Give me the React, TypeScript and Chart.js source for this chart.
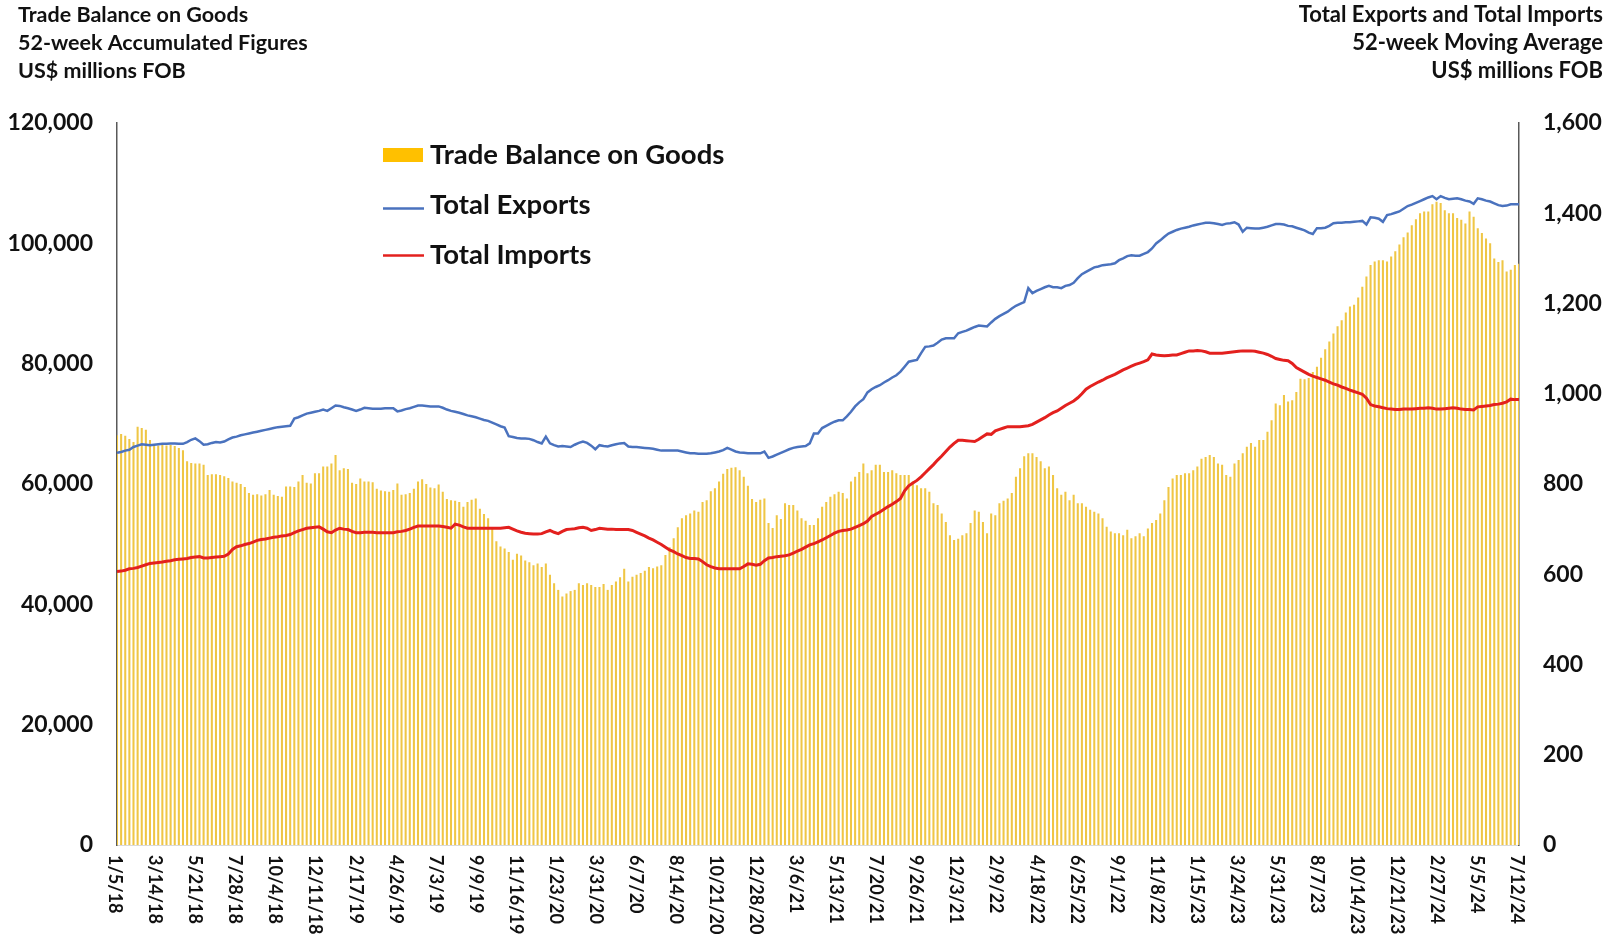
import React, { useEffect, useRef } from 'react';
import { Chart, registerables } from 'chart.js';

Chart.register(...registerables);

// Weekly observations, first week = 1/5/18, one value per week through 7/12/24
const weekStepDays = 7;
const tickStepDays = 68;
const xTickLabels = [
  '1/5/18', '3/14/18', '5/21/18', '7/28/18', '10/4/18', '12/11/18', '2/17/19', '4/26/19', '7/3/19',
  '9/9/19', '11/16/19', '1/23/20', '3/31/20', '6/7/20', '8/14/20', '10/21/20', '12/28/20', '3/6/21',
  '5/13/21', '7/20/21', '9/26/21', '12/3/21', '2/9/22', '4/18/22', '6/25/22', '9/1/22', '11/8/22',
  '1/15/23', '3/24/23', '5/31/23', '8/7/23', '10/14/23', '12/21/23', '2/27/24', '5/5/24', '7/12/24',
];

// Trade Balance on Goods, 52-week accumulated, US$ millions FOB
const tradeBalance = [
  68100, 68300, 68000, 67500, 67000, 69500, 69300, 69000, 67300, 66500,
  66400, 66500, 66400, 66500, 66300, 66000, 65600, 63800, 63500, 63400,
  63400, 63200, 61500, 61600, 61600, 61500, 61300, 61000, 60400, 60200,
  60000, 59500, 58500, 58200, 58300, 58100, 58300, 59000, 58200, 58000,
  57900, 59600, 59600, 59500, 60400, 61500, 60200, 60100, 61800, 61800,
  62900, 62900, 63400, 64800, 62300, 62600, 62500, 60200, 60000, 60900,
  60400, 60400, 60300, 59200, 58900, 58800, 58700, 59000, 60100, 58200,
  58300, 58500, 59200, 60400, 60800, 60000, 59400, 59300, 59900, 58700,
  57500, 57300, 57200, 57000, 56200, 57000, 57400, 57600, 55900, 55000,
  54300, 52800, 50500, 49600, 49300, 48700, 47400, 48400, 48100, 47300,
  47000, 46500, 46800, 46200, 46800, 44900, 43500, 42400, 41300, 41800,
  42200, 42400, 43500, 43200, 43500, 43200, 42900, 42900, 43400, 42400,
  43200, 43800, 44500, 45900, 43800, 44600, 44900, 45200, 45600, 46200,
  46000, 46300, 46500, 48200, 49500, 51000, 52800, 54300, 54800, 55100,
  55600, 55400, 57000, 57300, 58800, 59300, 60400, 61700, 62500, 62700,
  62800, 62300, 61200, 59700, 57500, 57000, 57400, 57600, 53500, 52700,
  54800, 54200, 56800, 56500, 56500, 55600, 54300, 53900, 53200, 53200,
  54300, 56200, 57000, 57900, 58300, 58700, 58500, 57600, 60400, 61200,
  62000, 63400, 61800, 62300, 63200, 63200, 62000, 62000, 62300, 61800,
  61500, 61500, 61500, 60400, 59800, 59300, 59300, 58700, 56800, 56500,
  55100, 53700, 51500, 50700, 50900, 51500, 51800, 53500, 55600, 55400,
  53700, 51800, 55100, 54800, 56800, 57200, 57600, 58500, 61200, 62600,
  64600, 65100, 65100, 64500, 63800, 62600, 62900, 61500, 59300, 58200,
  58700, 57300, 58200, 56800, 56800, 56200, 55700, 55400, 55100, 54300,
  52900, 52100, 51800, 51800, 51500, 52400, 51000, 51300, 51800, 51300,
  52600, 53500, 54000, 55100, 57300, 59500, 60900, 61500, 61500, 61800,
  61800, 62300, 62900, 64200, 64500, 64800, 64500, 63400, 63200, 61500,
  61200, 63400, 64000, 65100, 66200, 66800, 66200, 67300, 67300, 68700,
  70600, 73400, 73100, 74800, 73700, 73900, 75300, 77500, 77400, 77600,
  78600, 79500, 81000, 82400, 83700, 85000, 86200, 87200, 88500, 89500,
  89800, 91000, 92800, 94500, 96400, 97000, 97200, 97200, 97000, 97800,
  98700, 99800, 101000, 101800, 103000, 104000, 105000, 105300, 105300, 106500,
  106900, 106700, 105500, 105000, 105000, 104200, 103900, 103300, 105300, 104400,
  102500, 101700, 100800, 100000, 97500, 96900, 97200, 95300, 95600, 96400,
  96600,
];

// Total Exports, 52-week moving average, US$ millions FOB
const totalExports = [
  869, 871, 874, 876, 882, 885, 888, 887, 886, 887,
  888, 889, 889, 890, 890, 889, 889, 893, 898, 901,
  895, 887, 888, 891, 893, 892, 894, 899, 903, 905,
  908, 910, 912, 914, 916, 918, 920, 922, 924, 926,
  927, 928, 929, 945, 948, 952, 956, 958, 960, 962,
  965, 962, 968, 974, 973, 970, 968, 965, 962, 965,
  969, 968, 967, 967, 967, 968, 968, 968, 961, 963,
  966, 968, 971, 974, 974, 973, 972, 972, 972, 969,
  965, 962, 960, 958, 955, 952, 950, 948, 945, 942,
  940, 936, 932, 928, 925, 906, 904, 902, 901, 901,
  900, 897, 893, 890, 905, 890, 886, 883, 884, 883,
  882, 887, 891, 894, 891, 885, 877, 886, 884, 883,
  886, 888, 890, 891, 883, 882, 882, 881, 880, 879,
  878, 876, 874, 874, 874, 874, 874, 872, 870, 868,
  868, 867, 867, 867, 868, 870, 872, 875, 880, 876,
  872, 870, 869, 868, 868, 868, 868, 872, 858, 861,
  865, 869, 873, 877, 880, 882, 883, 884, 890, 912,
  912, 924, 929, 934, 938, 941, 941, 950, 960, 972,
  981, 988, 1003, 1010, 1015, 1019, 1025, 1030, 1036, 1041,
  1049, 1060, 1071, 1073, 1075, 1090, 1104, 1105, 1107, 1113,
  1120, 1123, 1123, 1123, 1134, 1137, 1140, 1144, 1148, 1151,
  1150, 1149, 1158, 1166, 1172, 1177, 1182, 1189, 1195, 1199,
  1203, 1234, 1223, 1228, 1232, 1236, 1239, 1236, 1236, 1234,
  1239, 1241, 1246, 1256, 1265, 1270, 1275, 1280, 1282, 1285,
  1286, 1287, 1289, 1296, 1300, 1305, 1307, 1306, 1306, 1310,
  1314, 1322, 1333, 1340, 1348, 1355, 1359, 1363, 1366, 1368,
  1370, 1373, 1375, 1377, 1379, 1379, 1378, 1376, 1374, 1377,
  1378, 1380, 1375, 1359, 1368, 1367, 1366, 1366, 1368, 1370,
  1373, 1376, 1376, 1375, 1372, 1371, 1368, 1365, 1362, 1357,
  1354, 1367, 1367, 1368, 1372, 1378, 1379, 1379, 1380, 1380,
  1381, 1382, 1383, 1375, 1391, 1390, 1388, 1381, 1396, 1398,
  1401, 1404, 1410, 1416, 1419, 1423, 1427, 1431, 1435, 1438,
  1431, 1438, 1434, 1431, 1432, 1433, 1431, 1428, 1426, 1421,
  1433, 1431, 1428, 1426, 1422, 1418, 1416, 1417, 1420, 1420,
  1420,
];

// Total Imports, 52-week moving average, US$ millions FOB
const totalImports = [
  606, 607, 609, 612, 613, 615, 618, 621, 624, 625,
  626, 627, 629, 630, 632, 633, 634, 635, 637, 638,
  639, 636, 636, 637, 638, 639, 640, 645, 655, 661,
  663, 666, 668, 671, 675, 677, 678, 680, 682, 683,
  685, 686, 688, 692, 696, 699, 702, 703, 704, 705,
  700, 694, 692, 698, 702, 700, 699, 695, 692, 692,
  693, 693, 693, 692, 692, 692, 692, 692, 694, 695,
  697, 700, 704, 707, 707, 707, 707, 707, 707, 706,
  704, 702, 711, 709, 705, 702, 702, 702, 702, 702,
  702, 702, 702, 702, 703, 704, 700, 696, 693, 691,
  690, 689, 689, 690, 694, 697, 693, 690, 695, 699,
  700, 701, 703, 704, 702, 697, 699, 702, 701, 700,
  700, 699, 699, 699, 699, 697, 693, 689, 685, 680,
  676, 671, 666, 660, 654, 650, 645, 641, 637, 635,
  635, 634, 628, 621, 617, 614, 612, 612, 612, 612,
  612, 612, 617, 623, 622, 620, 622, 630, 636, 637,
  639, 640, 641, 643, 647, 651, 655, 660, 665, 668,
  672, 676, 681, 686, 691, 695, 697, 698, 700, 704,
  708, 712, 718, 728, 733, 738, 744, 750, 755, 761,
  768, 785, 796, 802, 808, 816, 825, 834, 843, 853,
  862, 872, 882, 890, 897, 897, 896, 895, 894, 899,
  905, 911, 910, 918, 921, 924, 927, 927, 927, 927,
  928, 929, 932, 937, 942, 947, 953, 958, 962, 968,
  974, 979, 984, 991, 1000, 1010, 1016, 1021, 1026, 1030,
  1035, 1039, 1043, 1048, 1053, 1057, 1061, 1065, 1068, 1071,
  1075, 1088, 1086, 1085, 1084, 1085, 1086, 1086, 1089, 1092,
  1095, 1095, 1096, 1095, 1093, 1090, 1090, 1090, 1090, 1091,
  1092, 1093, 1094, 1095, 1095, 1095, 1094, 1092, 1090, 1087,
  1083, 1078, 1076, 1074, 1073, 1067, 1058, 1053, 1048, 1043,
  1039, 1036, 1033, 1030, 1026, 1022, 1019, 1015, 1012, 1008,
  1005, 1002, 999, 990, 976, 973, 971, 969, 967, 966,
  965, 965, 966, 966, 966, 967, 968, 968, 969, 968,
  966, 966, 967, 968, 969, 968, 966, 965, 965, 964,
  971, 972, 973, 974, 976, 977, 979, 982, 988, 987,
  987,
];

const leftTitle = ['Trade Balance on Goods', '52-week Accumulated Figures', 'US$ millions FOB'];
const rightTitle = ['Total Exports and Total Imports', '52-week Moving Average', 'US$ millions FOB'];
const seriesNames = ['Trade Balance on Goods', 'Total Exports', 'Total Imports'];

const BAR_COLOR = '#EFC645';
const LEGEND_BAR = '#FFC000';
const EXPORT_COLOR = '#4A72BE';
const IMPORT_COLOR = '#E3201E';
const FONT = 'Lato, "Liberation Sans", sans-serif';

const W = 1619;
const H = 938;

const decor = {
  id: 'decor',
  afterDraw(chart: any) {
    const ctx = chart.ctx as CanvasRenderingContext2D;
    ctx.save();
    ctx.fillStyle = '#111';
    ctx.font = `bold 21.5px ${FONT}`;
    ctx.textBaseline = 'alphabetic';
    ctx.textAlign = 'left';
    leftTitle.forEach((t, i) => ctx.fillText(t, 18, 22 + i * 28));
    ctx.font = `bold 22px ${FONT}`;
    ctx.textAlign = 'right';
    rightTitle.forEach((t, i) => ctx.fillText(t, 1603, 22 + i * 28));

    // legend
    ctx.textAlign = 'left';
    ctx.font = `bold 27.5px ${FONT}`;
    ctx.fillStyle = LEGEND_BAR;
    ctx.fillRect(383, 148, 40, 14);
    ctx.lineWidth = 2.5;
    ctx.strokeStyle = EXPORT_COLOR;
    ctx.beginPath(); ctx.moveTo(383, 208.5); ctx.lineTo(424, 208.5); ctx.stroke();
    ctx.strokeStyle = IMPORT_COLOR;
    ctx.beginPath(); ctx.moveTo(383, 255.5); ctx.lineTo(424, 255.5); ctx.stroke();
    ctx.fillStyle = '#111';
    ctx.fillText(seriesNames[0], 430, 164);
    ctx.fillText(seriesNames[1], 430, 214);
    ctx.fillText(seriesNames[2], 430, 264);

    // x tick labels rotated clockwise
    const xs = chart.scales.x;
    ctx.font = `bold 18px ${FONT}`;
    ctx.textAlign = 'left';
    ctx.textBaseline = 'middle';
    xTickLabels.forEach((lab, k) => {
      const px = xs.getPixelForValue(k * tickStepDays);
      ctx.save();
      ctx.translate(px - 2, 855);
      ctx.rotate(Math.PI / 2);
      ctx.fillText(lab, 0, 0);
      ctx.restore();
    });
    ctx.restore();
  },
};

export default function App() {
  const ref = useRef<HTMLCanvasElement | null>(null);

  useEffect(() => {
    if (!ref.current) return;
    const toPoints = (arr: number[]) => arr.map((v, i) => ({ x: i * weekStepDays, y: v }));
    const tickFont = { family: FONT, size: 23, weight: 'bold' as const };
    const chart = new Chart(ref.current, {
      type: 'bar',
      data: {
        datasets: [
          {
            type: 'line',
            label: seriesNames[1],
            data: toPoints(totalExports),
            yAxisID: 'y1',
            borderColor: EXPORT_COLOR,
            borderWidth: 2.5,
            pointRadius: 0,
            tension: 0,
            order: 1,
          } as any,
          {
            type: 'line',
            label: seriesNames[2],
            data: toPoints(totalImports),
            yAxisID: 'y1',
            borderColor: IMPORT_COLOR,
            borderWidth: 3,
            pointRadius: 0,
            tension: 0,
            order: 2,
          } as any,
          {
            type: 'bar',
            label: seriesNames[0],
            data: toPoints(tradeBalance),
            yAxisID: 'y',
            backgroundColor: BAR_COLOR,
            borderWidth: 0,
            barPercentage: 0.5,
            categoryPercentage: 1,
            order: 3,
          } as any,
        ],
      },
      options: {
        responsive: false,
        animation: false,
        events: [],
        layout: { padding: { top: 123, left: 0, right: 0, bottom: 0 } },
        plugins: { legend: { display: false }, tooltip: { enabled: false }, title: { display: false } },
        scales: {
          x: {
            type: 'linear',
            min: 0,
            max: (xTickLabels.length - 1) * tickStepDays,
            offset: false,
            grid: { display: false, drawTicks: false, offset: false },
            border: { display: true, color: '#d9d9d9', width: 1 },
            ticks: { display: false, stepSize: tickStepDays },
            afterFit: (s: any) => { s.height = H - 845; },
          },
          y: {
            position: 'left',
            min: 0,
            max: 120000,
            grid: { display: false, drawTicks: false },
            border: { display: true, color: '#595959', width: 1.5 },
            ticks: {
              stepSize: 20000,
              padding: 24,
              color: '#111',
              font: tickFont,
              callback: (v: any) => Number(v).toLocaleString('en-US'),
            },
            afterFit: (s: any) => { s.width = 117; },
          },
          y1: {
            position: 'right',
            min: 0,
            max: 1600,
            grid: { display: false, drawTicks: false },
            border: { display: true, color: '#595959', width: 1.5 },
            ticks: {
              stepSize: 200,
              padding: 24,
              color: '#111',
              font: tickFont,
              callback: (v: any) => Number(v).toLocaleString('en-US'),
            },
            afterFit: (s: any) => { s.width = W - 1519; },
          },
        },
      } as any,
      plugins: [decor],
    });
    return () => chart.destroy();
  }, []);

  return (
    <div style={{ position: 'absolute', left: 0, top: 0, width: W, height: H, background: '#fff' }}>
      <canvas ref={ref} width={W} height={H} style={{ display: 'block' }} />
    </div>
  );
}
